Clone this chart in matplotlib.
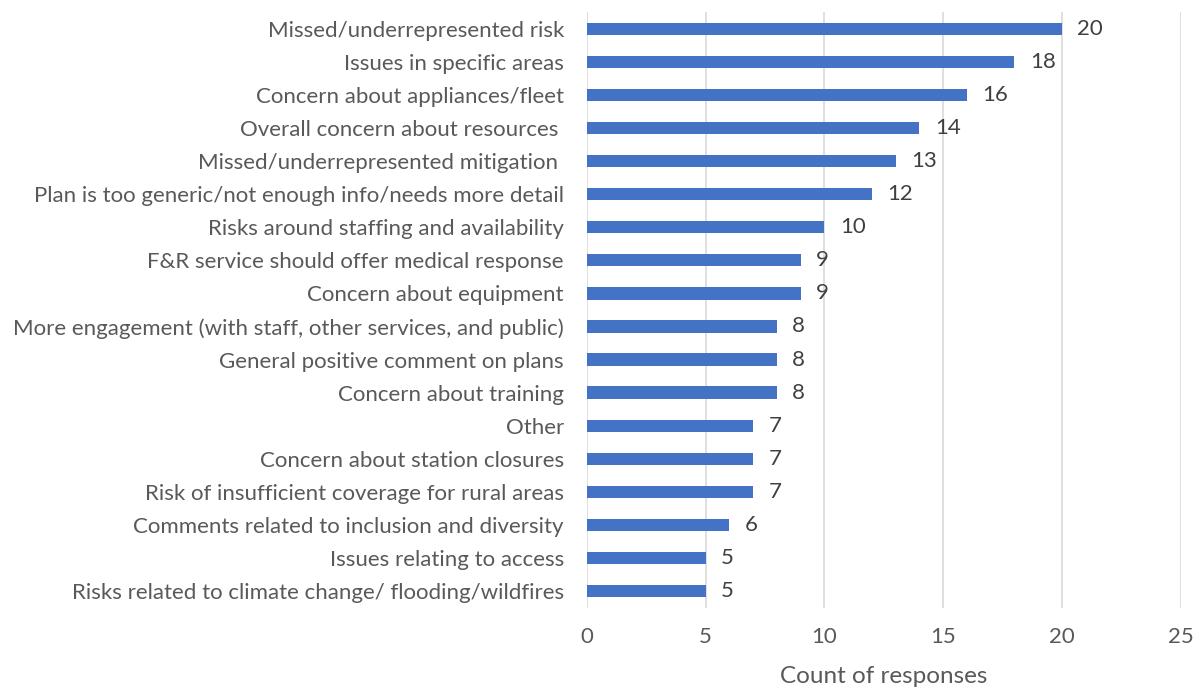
import matplotlib
matplotlib.use("Agg")
import matplotlib.pyplot as plt

categories = [
    "Missed/underrepresented risk",
    "Issues in specific areas",
    "Concern about appliances/fleet",
    "Overall concern about resources ",
    "Missed/underrepresented mitigation ",
    "Plan is too generic/not enough info/needs more detail",
    "Risks around staffing and availability",
    "F&R service should offer medical response",
    "Concern about equipment",
    "More engagement (with staff, other services, and public)",
    "General positive comment on plans",
    "Concern about training",
    "Other",
    "Concern about station closures",
    "Risk of insufficient coverage for rural areas",
    "Comments related to inclusion and diversity",
    "Issues relating to access",
    "Risks related to climate change/ flooding/wildfires",
]
counts = [20, 18, 16, 14, 13, 12, 10, 9, 9, 8, 8, 8, 7, 7, 7, 6, 5, 5]
xticks = [0, 5, 10, 15, 20, 25]

plt.rcParams['font.family'] = ['Lato', 'DejaVu Sans']
text_color = "#595959"

fig = plt.figure(figsize=(12, 6.88), dpi=100)
ax = fig.add_axes([0.489, 0.117, 0.495, 0.865])

ypos = list(range(len(categories)))
ax.barh(ypos, counts, height=0.37, color="#4472C4", zorder=3)
ax.set_ylim(len(categories) - 0.5, -0.5)
ax.set_xlim(0, 25)
ax.set_xticks(xticks)
ax.set_xticklabels([str(t) for t in xticks])
ax.set_yticks(ypos)
ax.set_yticklabels(categories)

for y, v in zip(ypos, counts):
    ax.text(v + 0.65, y, str(v), va="center", ha="left", fontsize=16, color="#404040")

ax.grid(axis="x", color="#D9D9D9", linewidth=1.2, zorder=0)
for s in ax.spines.values():
    s.set_visible(False)
ax.tick_params(axis="both", length=0, colors=text_color, labelsize=16)
ax.tick_params(axis="y", pad=16.5)
ax.tick_params(axis="x", pad=14)
ax.set_xlabel("Count of responses", fontsize=17.5, color=text_color, labelpad=14)

fig.savefig("out.png", dpi=100)
